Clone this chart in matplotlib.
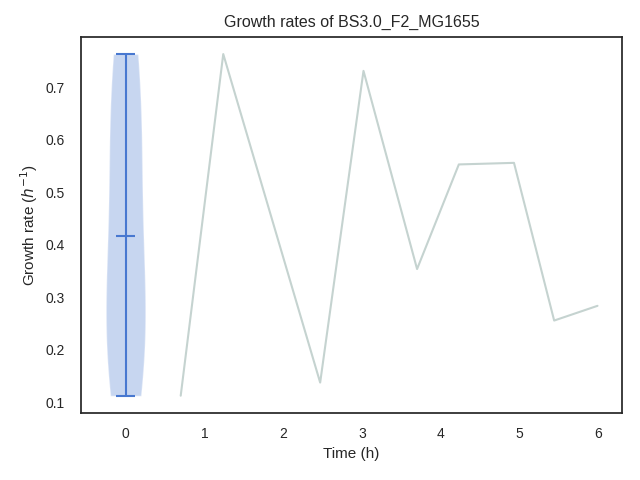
import matplotlib
matplotlib.use("Agg")
from matplotlib import pyplot as plt
import seaborn as sns

# growth rate samples
times = [0.70, 1.24, 2.47, 3.02, 3.70, 4.23, 4.93, 5.44, 5.99]
rates = [0.113, 0.763, 0.138, 0.731, 0.354, 0.553, 0.556, 0.256, 0.284]
strain = "BS3.0_F2_MG1655"

sns.set_style("white")
sns.set_palette("muted")
plt.rcParams['font.family'] = ['Liberation Sans', 'DejaVu Sans']
plt.rcParams['axes.linewidth'] = 1.25

fig, ax = plt.subplots(figsize=(6.4, 4.8), dpi=100)
ax.violinplot(rates, positions=[0], showmeans=True)
ax.plot(times, rates, color="#c5d3d0")
ax.set_xlabel("Time (h)", fontsize=11)
ax.set_ylabel("Growth rate ($h^{-1}$)", fontsize=11)
ax.set_title("Growth rates of " + strain, fontsize=11.5, pad=7)
ax.tick_params(axis="y", pad=8.5)
ax.tick_params(axis="x", pad=7)
fig.subplots_adjust(left=0.127, right=0.972, top=0.923, bottom=0.14)
fig.savefig("out.png")
